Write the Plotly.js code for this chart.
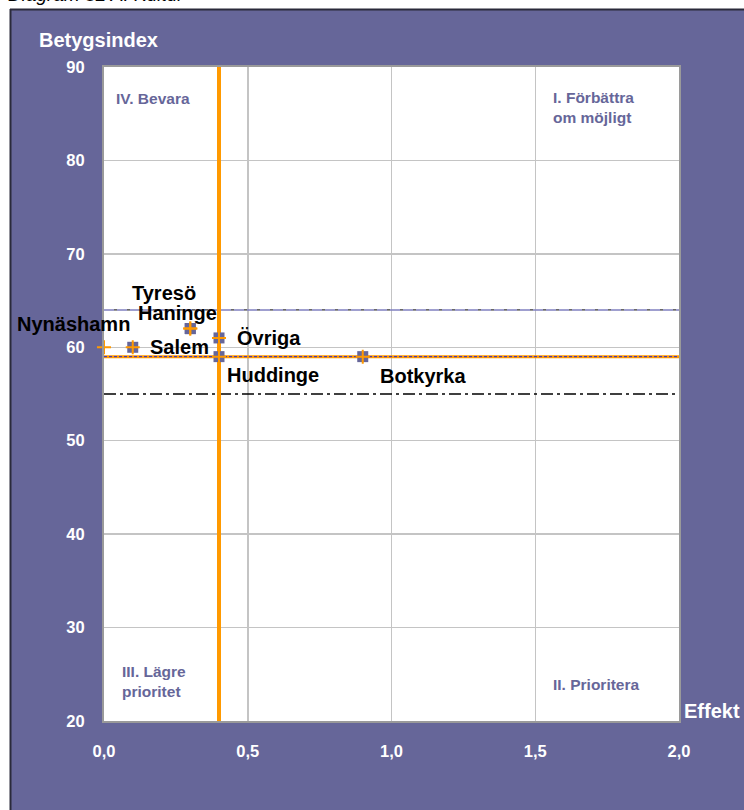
<!DOCTYPE html>
<html>
<head>
<meta charset="utf-8">
<script src="https://cdn.plot.ly/plotly-3.0.1.min.js"></script>
<style>html,body{margin:0;padding:0;background:#fff;}#chart{width:744px;height:810px;}</style>
</head>
<body>
<div id="chart"></div>
<script>
// ---- data ----
const names = ["Nynäshamn", "Salem", "Tyresö", "Haninge", "Övriga", "Huddinge", "Botkyrka"];
const effekt = [0.0, 0.1, 0.3, 0.3, 0.4, 0.4, 0.9];
const betygsindex = [60, 60, 62, 62, 61, 59, 59];
const labelShiftX = [-31, 47, -26, -13, 50, 54, 60];
const labelShiftY = [23, 0, 36, 16, 0, -18, -19];
const meanEffekt = 0.4;
const meanIndex = 59;
const upperRef = 64;
const lowerRef = 55;
const xTicks = [0, 0.5, 1.0, 1.5, 2.0];
const yTicks = [20, 30, 40, 50, 60, 70, 80, 90];
const xRange = [0, 2];
const yRange = [20, 90];

const PURPLE = '#666699';
const ORANGE = '#ff9900';
const FONT = 'Arial, "Liberation Sans", sans-serif';

// pixel helpers for paper coordinates (layout positions only)
const W = 744, H = 810, ML = 104, MR = 65, MT = 67, MB = 89;
const PW = W - ML - MR, PH = H - MT - MB;
const px = v => (v - ML) / PW;
const py = v => (H - MB - v) / PH;

const hline = (y, color, width, dash) => ({
  x: xRange, y: [y, y], mode: 'lines', type: 'scatter', hoverinfo: 'skip',
  line: {color: color, width: width, dash: dash}, showlegend: false, cliponaxis: true
});

const traces = [
  hline(upperRef, '#8080c0', 1.5, '10px,3px'),
  hline(upperRef, '#000000', 1, '0px,10px,3px,0px'),
  hline(lowerRef, '#000000', 1.3, '12px,4px,3px,4px'),
  hline(meanIndex, ORANGE, 3, 'solid'),
  hline(meanIndex, '#2b2bd0', 1, '3px,2px'),
  {x: [meanEffekt, meanEffekt], y: yRange, mode: 'lines', type: 'scatter', hoverinfo: 'skip',
   line: {color: ORANGE, width: 4}, showlegend: false},
  {x: effekt, y: betygsindex, mode: 'markers', type: 'scatter', hoverinfo: 'skip', showlegend: false,
   cliponaxis: true,
   marker: {symbol: 'square', size: 11, color: PURPLE, opacity: effekt.map(v => v === 0 ? 0 : 1), line: {width: 0}}},
  {x: effekt, y: betygsindex, mode: 'markers', type: 'scatter', hoverinfo: 'skip', showlegend: false,
   cliponaxis: false,
   marker: {symbol: 'cross-thin', size: 10, color: ORANGE, line: {color: ORANGE, width: 2}}}
];

const annotations = names.map((n, i) => ({
  x: effekt[i], y: betygsindex[i], xref: 'x', yref: 'y', text: '<b>' + n + '</b>',
  showarrow: false, xanchor: 'center', yanchor: 'middle',
  xshift: labelShiftX[i], yshift: labelShiftY[i],
  font: {family: FONT, size: 20, color: '#000000'}
}));

const quad = (text, x, y) => ({
  x: px(x), y: py(y), xref: 'paper', yref: 'paper', text: '<b>' + text + '</b>',
  showarrow: false, xanchor: 'left', yanchor: 'middle', align: 'left',
  font: {family: FONT, size: 15.5, color: PURPLE}
});

annotations.push(
  quad('IV. Bevara', 114, 98),
  quad('I. Förbättra<br>om möjligt', 551, 107),
  quad('III. Lägre<br>prioritet', 120, 681),
  quad('II. Prioritera', 551, 684),
  {x: px(37), y: py(40), xref: 'paper', yref: 'paper', text: '<b>Betygsindex</b>', showarrow: false,
   xanchor: 'left', yanchor: 'middle', font: {family: FONT, size: 20, color: '#ffffff'}},
  {x: px(682), y: py(711), xref: 'paper', yref: 'paper', text: '<b>Effekt</b>', showarrow: false,
   xanchor: 'left', yanchor: 'middle', font: {family: FONT, size: 20, color: '#ffffff'}},
  {x: px(6), y: py(-6), xref: 'paper', yref: 'paper', text: '<i>Diagram 32 A. Kultur</i>', showarrow: false,
   xanchor: 'left', yanchor: 'middle', font: {family: FONT, size: 19, color: '#000000'}}
);

const shapes = [
  {type: 'rect', xref: 'paper', yref: 'paper', x0: -0.5, x1: 1.5, y0: py(9), y1: 1.5,
   fillcolor: '#ffffff', line: {width: 0}, layer: 'below'},
  {type: 'rect', xref: 'paper', yref: 'paper', x0: -0.5, x1: px(10), y0: -0.5, y1: 1.5,
   fillcolor: '#ffffff', line: {width: 0}, layer: 'below'},
  {type: 'line', xref: 'paper', yref: 'paper', x0: px(10.5), x1: px(10.5), y0: -0.5, y1: py(9), 
   line: {color: '#2a2a3a', width: 2}, layer: 'below'},
  {type: 'line', xref: 'paper', yref: 'paper', x0: px(10), x1: 1.5, y0: py(9.5), y1: py(9.5),
   line: {color: '#2a2a3a', width: 2}, layer: 'below'}
];

const layout = {
  width: W, height: H,
  margin: {l: ML, r: MR, t: MT, b: MB, pad: 0},
  paper_bgcolor: PURPLE, plot_bgcolor: '#ffffff',
  separators: ', ',
  showlegend: false,
  xaxis: {range: xRange, tickvals: xTicks, tickformat: '.1f', showgrid: true,
          gridcolor: '#c4c4c4', gridwidth: 1.5, zeroline: false,
          showline: true, linecolor: '#9a9a9a', linewidth: 2, mirror: true,
          ticks: '', ticklabelstandoff: 14,
          tickfont: {family: FONT, size: 16.5, color: '#ffffff', weight: 'bold'}, fixedrange: true},
  yaxis: {range: yRange, tickvals: yTicks, showgrid: true,
          gridcolor: '#c4c4c4', gridwidth: 1.5, zeroline: false,
          showline: true, linecolor: '#9a9a9a', linewidth: 2, mirror: true,
          ticks: '', ticklabelstandoff: 14,
          tickfont: {family: FONT, size: 16.5, color: '#ffffff', weight: 'bold'}, fixedrange: true},
  annotations: annotations,
  shapes: shapes
};

Plotly.newPlot('chart', traces, layout, {staticPlot: true, displayModeBar: false});
</script>
</body>
</html>
